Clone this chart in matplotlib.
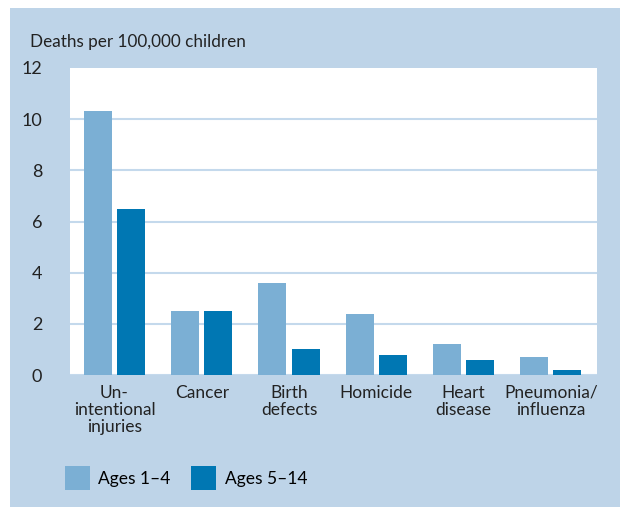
import numpy as np
import matplotlib.pyplot as plt
from matplotlib.patches import Rectangle, Patch

categories = ["Un-\nintentional\ninjuries", "Cancer", "Birth\ndefects",
              "Homicide", "Heart\ndisease", "Pneumonia/\ninfluenza"]
ages_1_4 = [10.3, 2.5, 3.6, 2.4, 1.2, 0.7]
ages_5_14 = [6.5, 2.5, 1.0, 0.8, 0.6, 0.2]
yticks = [0, 2, 4, 6, 8, 10, 12]

panel = "#bed4e8"
light = "#7bafd4"
dark = "#0077b3"
grid = "#c4d9ec"

plt.rcParams['font.family'] = ['Lato', 'DejaVu Sans']

fig = plt.figure(figsize=(6.2, 5.07), dpi=100)
fig.patch.set_facecolor("white")
fig.patches.append(Rectangle((10 / 620, 0), 1, 1 - 8 / 507, transform=fig.transFigure,
                             facecolor=panel, edgecolor="none", zorder=-10))

ax = fig.add_axes([70 / 620, 1 - 375 / 507, (597 - 70) / 620, (375 - 68) / 507])
ax.set_facecolor("white")

x = np.arange(len(categories))
w = 0.32
ax.bar(x - 0.19, ages_1_4, w, color=light, zorder=3, label="Ages 1–4")
ax.bar(x + 0.19, ages_5_14, w, color=dark, zorder=3, label="Ages 5–14")

ax.set_xlim(-0.51, 5.53)
ax.set_ylim(0, 12)
ax.set_yticks(yticks)
for t in yticks[:-1]:
    ax.axhline(t, color=grid, lw=1.5, zorder=1)

for s in ax.spines.values():
    s.set_visible(False)
ax.tick_params(axis="both", length=0, colors="#222222")
ax.tick_params(axis="y", pad=20, labelsize=13)
ax.tick_params(axis="x", pad=7, labelsize=12.5)
ax.set_yticklabels([str(t) for t in yticks])
ax.set_xticks(x)
ax.set_xticklabels(categories, linespacing=1.1)

fig.text(30 / 620, 1 - 42 / 507, "Deaths per 100,000 children", fontsize=12.3,
         color="#222222", va="center", ha="left")

handles = [Patch(facecolor=light, label="Ages 1–4"),
           Patch(facecolor=dark, label="Ages 5–14")]
fig.legend(handles=handles, loc="center left", bbox_to_anchor=(49 / 620, 1 - 478 / 507),
           ncol=2, frameon=False, fontsize=12.5, handlelength=1.45, handleheight=1.7,
           columnspacing=1.15, handletextpad=0.5)

fig.savefig("out.png", dpi=100, facecolor=fig.get_facecolor())
